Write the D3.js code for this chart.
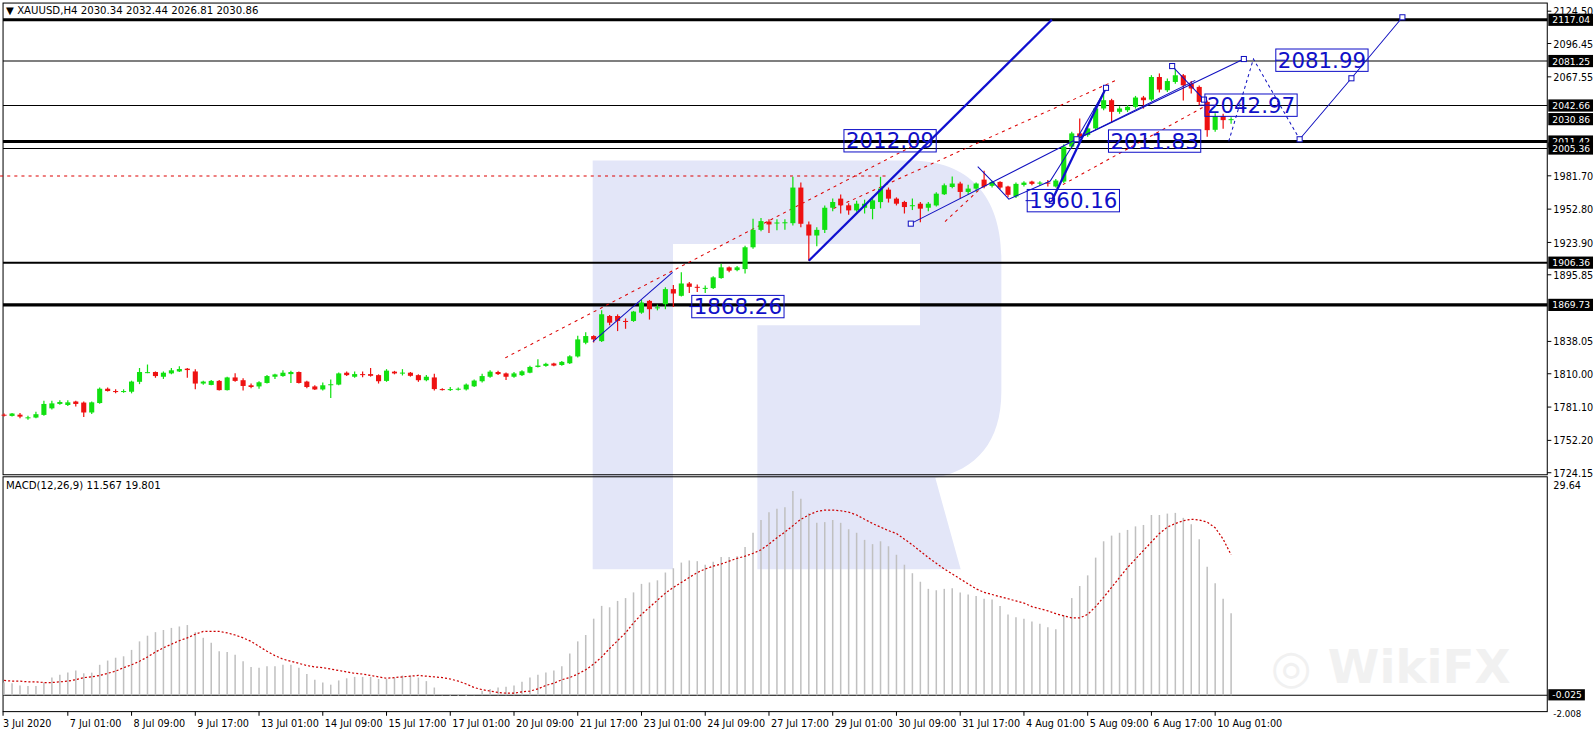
<!DOCTYPE html>
<html><head><meta charset="utf-8">
<script src="https://cdn.jsdelivr.net/npm/d3@7"></script>
<style>body{margin:0;background:#fff}svg{display:block}text{font-family:"DejaVu Sans",sans-serif}</style>
</head><body><svg id="c" width="1594" height="734"></svg>
<script>
const opens=[1774.5,1773.4,1774.5,1772.0,1772.0,1774.3,1780.0,1783.8,1782.9,1785.9,1785.0,1776.4,1784.6,1797.0,1795.0,1794.8,1794.4,1803.0,1811.2,1811.5,1807.4,1810.3,1812.0,1814.4,1812.0,1801.5,1800.3,1803.8,1795.8,1806.8,1804.4,1800.0,1799.0,1802.0,1807.4,1808.0,1809.7,1811.5,1803.2,1799.0,1796.4,1800.9,1800.6,1810.9,1807.4,1809.7,1809.7,1808.8,1803.8,1811.8,1810.9,1810.9,1808.8,1804.4,1806.8,1796.7,1796.5,1796.7,1796.4,1799.1,1803.5,1807.4,1811.5,1810.3,1807.4,1808.8,1810.9,1815.9,1816.8,1818.9,1817.6,1819.1,1825.0,1836.9,1842.7,1838.3,1860.1,1860.1,1855.8,1855.8,1863.0,1873.2,1867.4,1870.3,1883.4,1877.6,1888.3,1885.4,1884.0,1884.3,1893.0,1902.3,1899.9,1900.8,1919.7,1934.8,1942.0,1941.0,1941.2,1940.6,1971.5,1939.5,1929.9,1934.8,1954.0,1961.9,1956.1,1951.7,1954.0,1953.0,1958.9,1969.7,1961.9,1959.0,1956.0,1957.5,1954.0,1956.0,1965.7,1972.0,1975.0,1967.7,1970.6,1978.4,1973.0,1976.4,1972.4,1963.8,1973.8,1976.7,1975.6,1975.8,1972.4,1976.7,2007.0,2018.5,2017.0,2022.8,2040.1,2047.3,2037.2,2038.6,2041.5,2049.6,2047.8,2067.4,2055.9,2063.1,2068.9,2061.7,2058.8,2045.8,2021.6,2033.4,2030.34];
const highs=[1775.5,1776,1776,1773.5,1777,1786.5,1786.5,1787,1787,1786.5,1786,1786,1798,1798,1796.5,1796.5,1804,1815,1818,1812,1812,1815,1816.5,1815,1814,1804,1804.5,1804.5,1807.5,1810.5,1806,1801.5,1803.5,1809,1810,1813,1812.5,1812,1804,1800,1802.5,1805,1811,1812,1812,1812,1815,1809.5,1814,1812.5,1814,1811.5,1809.5,1809,1810,1797.5,1798.5,1798,1801.5,1805,1810,1813,1812.5,1811,1811.5,1813,1817,1822.5,1819.5,1819.5,1821,1826,1843,1846,1843.5,1865,1861,1861.5,1858,1864.5,1874,1874,1870,1885,1887,1898,1889.5,1887.5,1886.5,1894.5,1905.5,1903,1903.5,1921,1944.4,1945,1944,1944,1944,1980.8,1976,1942,1937,1956,1962,1965.5,1958,1960,1961,1963,1980.8,1971.5,1963,1960,1962,1959,1959,1967.5,1975,1981,1976.5,1974,1976,1986,1977.5,1977,1973,1976,1977,1977.5,1977,1978,1979,2009,2020,2031.4,2024,2041.5,2055.5,2048.5,2042,2043,2051,2051,2069,2070.5,2066,2074.6,2070,2064,2060,2047,2036,2035.5,2032.44];
const lows=[1773,1773,1771.5,1770,1771.5,1773.5,1779,1783,1782,1781.5,1772.5,1775,1784,1794.5,1793,1793.5,1793,1801,1810.5,1806.5,1805.5,1809.5,1811.5,1806.5,1796.5,1800.5,1800,1795.5,1795.5,1803,1795.5,1797.5,1797,1801.5,1805.5,1807.5,1802,1801.5,1797.5,1796,1795.5,1789,1800,1808,1806.5,1807,1807.5,1801.5,1803,1809.5,1808.5,1807.5,1803,1803.5,1795.5,1795.5,1795,1795.5,1795.5,1798.5,1802.5,1806.5,1809,1804.5,1806.5,1808,1810.5,1815.5,1816,1816.5,1817,1818.5,1824,1835.5,1837,1837.5,1852,1847,1849,1855,1862,1857,1865,1866,1868,1877,1880,1881,1880,1883.5,1892.5,1898,1899,1897,1918.5,1933.5,1932,1934.5,1935,1938.5,1937,1908.1,1920.5,1932,1951,1949,1948,1950.5,1949,1944,1953.5,1958.5,1956,1949,1952,1941.5,1951,1955,1965,1971,1962,1965.5,1968,1971,1971.5,1970,1963,1962.5,1972.5,1973.5,1973.5,1972.5,1971.5,1975.5,2005.5,2013,2015.5,2021.5,2038.5,2027.5,2035.5,2037,2040,2040,2046.5,2054,2054.5,2061.5,2047,2053,2043,2015.5,2020,2022.5,2026.81];
const closes=[1774.0,1775.5,1772.8,1772.2,1774.9,1783.8,1784.3,1785.5,1785.2,1783.8,1776.4,1785.2,1797.0,1795.0,1794.8,1795.0,1803.2,1811.5,1811.4,1808.0,1810.9,1813.0,1814.1,1813.2,1801.5,1803.2,1803.8,1795.8,1806.8,1803.8,1799.4,1798.5,1802.6,1808.0,1809.4,1810.9,1811.5,1802.0,1798.5,1796.4,1800.0,1800.9,1810.3,1808.8,1809.7,1809.5,1808.2,1803.5,1812.7,1810.3,1811.0,1808.2,1804.4,1807.4,1796.7,1796.5,1796.7,1797.0,1800.6,1804.1,1808.0,1811.8,1809.7,1807.4,1810.3,1812.1,1815.9,1817.1,1818.6,1817.1,1820.3,1825.1,1839.8,1842.7,1839.8,1861.6,1854.3,1855.8,1855.6,1863.9,1871.8,1866.0,1867.6,1883.4,1879.6,1888.3,1885.4,1885.0,1884.5,1893.6,1902.3,1899.4,1902.3,1919.7,1934.8,1942.4,1939.5,1941.2,1941.4,1971.5,1940.1,1929.9,1934.8,1954.0,1959.0,1956.1,1951.7,1957.5,1957.5,1960.4,1970.6,1961.9,1957.5,1954.6,1956.2,1953.2,1957.5,1966.2,1973.5,1975.0,1967.7,1970.6,1975.0,1972.6,1976.4,1971.5,1965.2,1974.7,1975.8,1974.7,1975.8,1975.5,1977.6,2007.0,2018.5,2015.6,2022.8,2040.1,2047.3,2037.2,2040.1,2041.5,2049.6,2047.3,2067.4,2056.5,2063.9,2068.9,2060.2,2057.4,2045.8,2021.3,2033.4,2030.0,2030.86];
const macdHist=[1.8,1.7,1.4,1.3,1.3,1.8,2.5,2.9,3.2,3.5,3.1,3.2,4.3,4.9,5.3,5.5,6.4,7.6,8.4,8.9,9.2,9.5,9.7,9.9,8.9,8.1,7.4,6.2,6.1,5.7,4.8,4.0,3.9,4.1,4.1,4.3,4.3,3.9,3.0,2.2,1.8,1.5,2.1,2.4,2.6,2.6,2.6,2.3,2.3,2.5,2.8,2.8,2.5,2.0,1.1,0.1,-0.1,-0.1,-0.1,0.2,0.6,0.9,1.1,1.2,1.4,1.9,2.5,2.9,3.2,3.5,4.1,5.9,7.6,8.5,10.8,12.6,12.4,13.3,13.7,14.5,15.7,15.9,16.2,17.3,17.9,18.7,19.0,18.9,18.4,18.8,19.5,19.5,19.6,20.9,22.9,24.7,25.8,26.3,26.5,28.8,27.7,25.7,24.3,24.4,24.7,24.3,23.4,22.9,21.9,21.3,21.7,21.0,19.8,18.4,17.2,16.0,15.0,14.8,15.0,15.1,14.5,14.2,14.0,13.6,13.5,12.6,11.4,11.0,10.8,10.4,10.1,9.6,9.3,11.3,13.7,15.4,16.9,19.4,21.7,22.5,22.9,23.3,23.8,24.0,25.4,25.4,25.6,25.7,25.0,24.1,22.0,18.1,15.8,13.6,11.567];
const macdSignal=[2.1,2.0,2.0,1.9,1.9,1.8,1.8,1.9,2.0,2.2,2.5,2.6,2.8,3.1,3.4,3.9,4.3,4.8,5.4,6.1,6.7,7.2,7.7,8.1,8.6,9.0,9.0,9.0,8.8,8.5,8.1,7.6,6.9,6.2,5.6,5.1,4.8,4.5,4.2,4.0,3.9,3.7,3.5,3.3,3.1,3.0,2.8,2.6,2.4,2.5,2.6,2.7,2.8,2.7,2.6,2.5,2.3,2.0,1.6,1.1,0.8,0.6,0.4,0.3,0.3,0.5,0.6,0.9,1.4,1.7,2.2,2.5,3.0,3.6,4.4,5.4,6.6,7.7,8.8,10.2,11.4,12.4,13.4,14.4,15.2,15.9,16.6,17.3,17.8,18.2,18.5,18.9,19.3,19.6,20.0,20.5,21.3,22.2,23.0,23.9,24.8,25.4,25.9,26.1,26.1,26.0,25.8,25.4,24.8,24.2,23.7,23.2,22.8,22.0,21.2,20.3,19.4,18.6,17.8,17.1,16.4,15.7,15.0,14.5,14.2,13.9,13.6,13.3,13.0,12.5,12.2,11.9,11.5,11.2,10.9,10.9,11.4,12.5,13.8,15.2,16.6,18.0,19.2,20.4,21.6,22.8,23.7,24.2,24.6,24.8,24.7,24.4,23.6,22.0,19.801];
const timeLabels=["3 Jul 2020","7 Jul 01:00","8 Jul 09:00","9 Jul 17:00","13 Jul 01:00","14 Jul 09:00","15 Jul 17:00","17 Jul 01:00","20 Jul 09:00","21 Jul 17:00","23 Jul 01:00","24 Jul 09:00","27 Jul 17:00","29 Jul 01:00","30 Jul 09:00","31 Jul 17:00","4 Aug 01:00","5 Aug 09:00","6 Aug 17:00","10 Aug 01:00"];
const priceTicks=[2124.50,2096.45,2067.55,1981.70,1952.80,1923.90,1895.85,1838.05,1810.00,1781.10,1752.20,1724.15];
const levelPrices=[2117.04,2081.25,2042.66,2011.42,2005.36,1906.36,1869.73];
const levelWidths=[3,1,1,3,1,2,3];
const boxPrices=[2117.04,2081.25,2042.66,2030.86,2011.42,2005.36,1906.36,1869.73];
const macdTicks=[29.64];
const annLabels=[{t:"2012.09",i:111.2,p:2012.09},{t:"1868.26",i:92.1,p:1868.26},{t:"1960.16",i:134.2,p:1960.16},{t:"2011.83",i:144.4,p:2011.83},{t:"2042.97",i:156.5,p:2042.97},{t:"2081.99",i:165.4,p:2081.99}];
const thickLines=[[[101,1908],[131.5,2117]],[[131.5,1960],[138.3,2058]]];
const thinLines=[[[113.8,1940.2],[134.6,2013.4],[155.6,2083]],[[134.6,2013.4],[149.5,2064.5]],[[134.6,2013.4],[138.3,2057.5]],[[122.2,1989.6],[124.2,1975.5],[126.1,1961.4],[131.3,1977.2],[134.6,2013.4]],[[146.6,2076.9],[150.6,2047.8]],[[162.6,2013.4],[169.1,2066.3],[175.5,2119.2]],[[73.9,1837.9],[83.9,1897.9]],[[86,1868.26],[87.5,1868.26]],[[128.2,1960.16],[129.5,1960.16]],[[138.4,2011.83],[139.6,2011.83]],[[150,2042.97],[152,2042.97]],[[159.6,2081.99],[160.8,2081.99]]];
const dottedBlue=[[[153.7,2011.6],[156.8,2083.1],[162.6,2013.4]]];
const squares=[[113.8,1940.2],[134.6,2013.4],[131.5,1960],[138.3,2058],[146.6,2076.9],[155.6,2083],[162.6,2013.4],[169.1,2066.3],[175.5,2119.2],[150.6,2047.8]];
const redDotted=[[[62.9,1823.8],[114.9,2010.7]],[[104.1,1953.4],[139.8,2065.4]],[[118.1,1942],[123,1973.7]],[[132.1,1971.1],[150.6,2041.6]],[[-0.5,1981.6],[111.1,1981.6]]];

const root=d3.select("#c");
const svg=root.append("g").attr("transform","scale(1.0166)");
const L=3,R=1522,T=3,B=467,MT=469,MB=700;
const x=d3.scaleLinear().domain([0,154]).range([4,1211]);
const y=d3.scaleLinear().domain([1724.15,2124.50]).range([465,11]);
const ym=d3.scaleLinear().domain([-2.008,29.64]).range([698,477]);
const lineG=d3.line().x(d=>x(d[0])).y(d=>y(d[1]));

svg.append("path").attr("fill","#e3e6f8").attr("fill-rule","evenodd")
 .attr("d","M583,158 H895 C955,158 985,195 985,255 V385 C985,435 960,462 920,470 L945,560 H745 V320 H662 V560 H583 Z M662,240 H905 V320 H662 Z");
svg.append("text").attr("x",1250).attr("y",672).attr("font-size",46).attr("font-weight","bold").attr("fill","#f1f1f1").text("◎ WikiFX");

svg.append("rect").attr("x",L).attr("y",T).attr("width",R-L).attr("height",B-T).attr("fill","none").attr("stroke","#000");
svg.append("rect").attr("x",L).attr("y",MT).attr("width",R-L).attr("height",MB-MT).attr("fill","none").attr("stroke","#000");

levelPrices.forEach((p,k)=>svg.append("line").attr("x1",L).attr("x2",R).attr("y1",y(p)).attr("y2",y(p)).attr("stroke","#000").attr("stroke-width",levelWidths[k]));
redDotted.forEach(s=>svg.append("path").attr("d",lineG(s)).attr("fill","none").attr("stroke","#d00").attr("stroke-dasharray","3,4"));

const g=svg.append("g");
closes.forEach((c,i)=>{
 const o=opens[i],up=c>=o,col=up?"#11e011":"#ee1111";
 g.append("line").attr("x1",x(i)).attr("x2",x(i)).attr("y1",y(highs[i])).attr("y2",y(lows[i])).attr("stroke",col).attr("stroke-width",1.2);
 const y1=y(Math.max(o,c)),y2=y(Math.min(o,c));
 g.append("rect").attr("x",x(i)-2.5).attr("y",y1).attr("width",5).attr("height",Math.max(1,y2-y1)).attr("fill",col);
});

thickLines.forEach(s=>svg.append("path").attr("d",lineG(s)).attr("fill","none").attr("stroke","#1010d0").attr("stroke-width",2.2));
thinLines.forEach(s=>svg.append("path").attr("d",lineG(s)).attr("fill","none").attr("stroke","#1010c0").attr("stroke-width",1));
dottedBlue.forEach(s=>svg.append("path").attr("d",lineG(s)).attr("fill","none").attr("stroke","#1010c0").attr("stroke-dasharray","3,3"));
squares.forEach(s=>svg.append("rect").attr("x",x(s[0])-2.5).attr("y",y(s[1])-2.5).attr("width",5).attr("height",5).attr("fill","#fff").attr("stroke","#1010c0"));
annLabels.forEach(a=>{
 const t=svg.append("text").attr("x",x(a.i)).attr("y",y(a.p)+7.5).attr("text-anchor","middle").attr("font-family","Liberation Sans").attr("font-size",21).attr("fill","#1010c8").text(a.t);
 const bb=t.node().getBBox();
 svg.append("rect").attr("x",bb.x-2).attr("y",y(a.p)-11).attr("width",bb.width+4).attr("height",22).attr("fill","none").attr("stroke","#1010c8");
});

svg.append("text").attr("x",6).attr("y",14).attr("font-size",10).attr("fill","#000").text("▼ XAUUSD,H4  2030.34 2032.44 2026.81 2030.86");
svg.append("text").attr("x",6).attr("y",481).attr("font-size",10).attr("fill","#000").text("MACD(12,26,9) 11.567 19.801");

priceTicks.forEach(p=>{
 svg.append("line").attr("x1",R).attr("x2",R+4).attr("y1",y(p)).attr("y2",y(p)).attr("stroke","#000");
 svg.append("text").attr("x",R+6).attr("y",y(p)+4).attr("font-size",9.5).attr("fill","#000").text(p.toFixed(2));
});
boxPrices.forEach(p=>{
 svg.append("rect").attr("x",R+1).attr("y",y(p)-6).attr("width",44).attr("height",12).attr("fill","#000");
 svg.append("text").attr("x",R+5).attr("y",y(p)+3.5).attr("font-size",9).attr("fill","#fff").text(p.toFixed(2));
});

svg.append("line").attr("x1",L).attr("x2",R).attr("y1",ym(0)).attr("y2",ym(0)).attr("stroke","#000");
macdHist.forEach((v,i)=>svg.append("line").attr("x1",x(i)).attr("x2",x(i)).attr("y1",ym(0)).attr("y2",ym(v)).attr("stroke","#c0c0c0").attr("stroke-width",1.5));
svg.append("path").attr("d",d3.line().x((d,i)=>x(i)).y(d=>ym(d))(macdSignal)).attr("fill","none").attr("stroke","#cc0000").attr("stroke-dasharray","2,2").attr("stroke-width",1.2);
macdTicks.forEach(v=>{svg.append("text").attr("x",R+6).attr("y",ym(v)+4).attr("font-size",9.5).text(v.toFixed(2));});
svg.append("rect").attr("x",R+1).attr("y",ym(0)-6).attr("width",36).attr("height",11).attr("fill","#000");
svg.append("text").attr("x",R+5).attr("y",ym(0)+3).attr("font-size",9).attr("fill","#fff").text("-0.025");
svg.append("text").attr("x",R+6).attr("y",ym(-2.008)+7).attr("font-size",8.5).text("-2.008");

timeLabels.forEach((t,k)=>{
 const xx=k===0?3:x(k*8);
 svg.append("line").attr("x1",xx).attr("x2",xx).attr("y1",MB).attr("y2",MB+4).attr("stroke","#000");
 svg.append("text").attr("x",xx+(k===0?0:2)).attr("y",715).attr("font-size",9.5).text(t);
});
</script></body></html>
